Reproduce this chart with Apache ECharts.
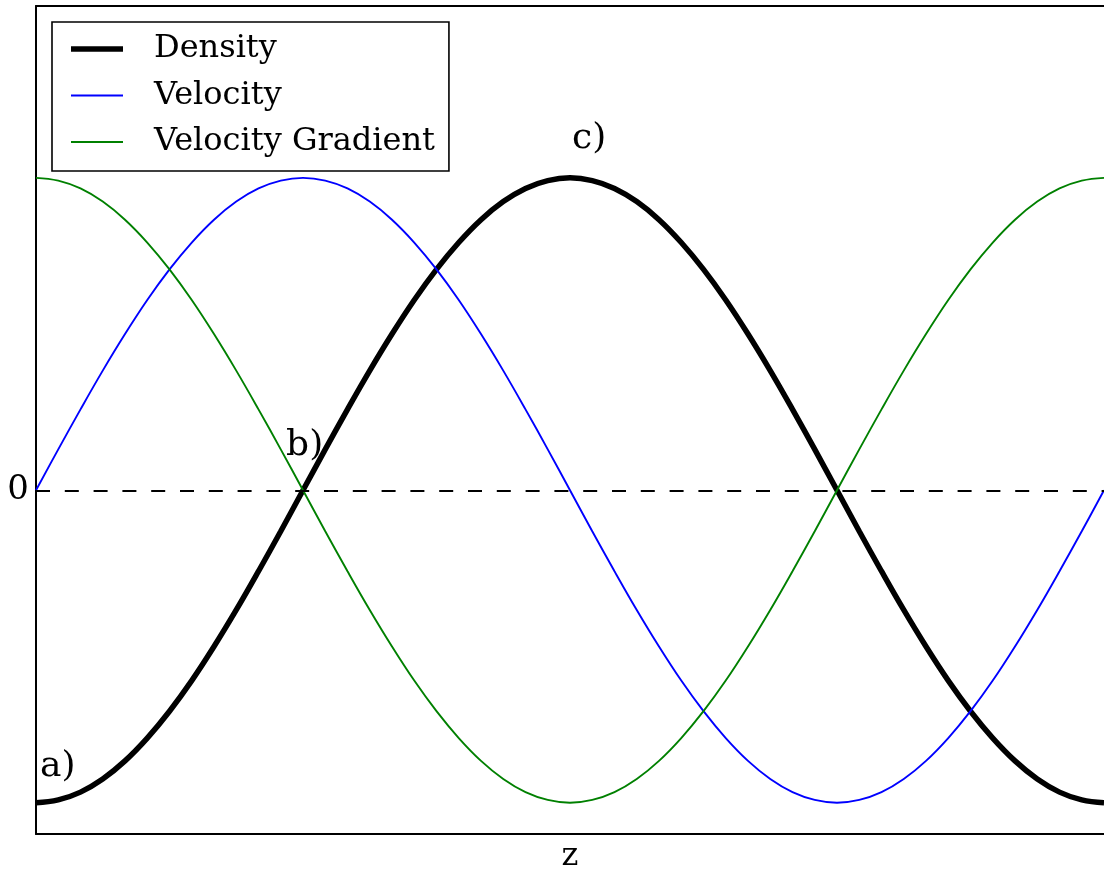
<!DOCTYPE html>
<html>
<head>
<meta charset="utf-8">
<script src="https://cdn.jsdelivr.net/npm/echarts@6/dist/echarts.min.js"></script>
<style>
  html, body { margin: 0; padding: 0; background: #fff; }
  #chart { width: 1104px; height: 871px; }
</style>
</head>
<body>
<div id="chart"></div>
<script>
// Samples along z, one period split into 48 steps (index 0..48)
const seriesNames = ['Density', 'Velocity', 'Velocity Gradient'];

const density = [
  -1.000, -0.991, -0.966, -0.924, -0.866, -0.793, -0.707, -0.609, -0.500, -0.383, -0.259, -0.131,
   0.000,  0.131,  0.259,  0.383,  0.500,  0.609,  0.707,  0.793,  0.866,  0.924,  0.966,  0.991,
   1.000,  0.991,  0.966,  0.924,  0.866,  0.793,  0.707,  0.609,  0.500,  0.383,  0.259,  0.131,
   0.000, -0.131, -0.259, -0.383, -0.500, -0.609, -0.707, -0.793, -0.866, -0.924, -0.966, -0.991,
  -1.000
];

const velocity = [
   0.000,  0.131,  0.259,  0.383,  0.500,  0.609,  0.707,  0.793,  0.866,  0.924,  0.966,  0.991,
   1.000,  0.991,  0.966,  0.924,  0.866,  0.793,  0.707,  0.609,  0.500,  0.383,  0.259,  0.131,
   0.000, -0.131, -0.259, -0.383, -0.500, -0.609, -0.707, -0.793, -0.866, -0.924, -0.966, -0.991,
  -1.000, -0.991, -0.966, -0.924, -0.866, -0.793, -0.707, -0.609, -0.500, -0.383, -0.259, -0.131,
   0.000
];

const velocityGradient = [
   1.000,  0.991,  0.966,  0.924,  0.866,  0.793,  0.707,  0.609,  0.500,  0.383,  0.259,  0.131,
   0.000, -0.131, -0.259, -0.383, -0.500, -0.609, -0.707, -0.793, -0.866, -0.924, -0.966, -0.991,
  -1.000, -0.991, -0.966, -0.924, -0.866, -0.793, -0.707, -0.609, -0.500, -0.383, -0.259, -0.131,
   0.000,  0.131,  0.259,  0.383,  0.500,  0.609,  0.707,  0.793,  0.866,  0.924,  0.966,  0.991,
   1.000
];

// Point annotations: [z index, value, text]
const annotations = [
  [0.18, -0.883, 'a)'],
  [11.24, 0.144, 'b)'],
  [24.09, 1.125, 'c)']
];

const yTickLabels = ['0'];

const FONT = '"DejaVu Serif", "Liberation Serif", serif';
const COLORS = ['#000000', '#0000ff', '#008000'];
const WIDTHS = [5.5, 1.9, 1.9];
const toPairs = arr => arr.map((v, i) => [i, v]);

// Legend keys drawn as flat bars whose thickness follows each line width
const legendKey = w => 'path://M0,0 L52,0 L52,' + w + ' L0,' + w + ' Z';

const chart = echarts.init(document.getElementById('chart'), null, { renderer: 'canvas' });

chart.setOption({
  backgroundColor: '#ffffff',
  animation: false,
  textStyle: { fontFamily: FONT, color: '#000' },
  grid: { left: 36, right: 0, top: 6, bottom: 37, containLabel: false, outerBoundsMode: 'none' },
  legend: {
    data: seriesNames.map((n, i) => ({
      name: n,
      icon: legendKey(WIDTHS[i]),
      itemStyle: { color: COLORS[i], borderWidth: 0 }
    })),
    left: 52,
    top: 22,
    orient: 'vertical',
    itemWidth: 52,
    itemHeight: 14,
    itemGap: 14.5,
    padding: [11, 14, 13, 19],
    borderColor: '#000',
    borderWidth: 1.6,
    backgroundColor: '#fff',
    textStyle: { fontFamily: FONT, fontSize: 32, color: '#000', padding: [0, 0, 0, 26] },
    selectedMode: false
  },
  xAxis: [
    {
      type: 'value',
      position: 'bottom',
      min: 0,
      max: 48,
      name: 'z',
      nameLocation: 'middle',
      nameGap: 7,
      nameTextStyle: { fontFamily: FONT, fontSize: 32, color: '#000' },
      axisLine: { show: true, onZero: false, lineStyle: { color: '#000', width: 2 } },
      axisTick: { show: false },
      axisLabel: { show: false },
      splitLine: { show: false }
    },
    {
      type: 'value',
      position: 'top',
      min: 0,
      max: 48,
      axisLine: { show: true, onZero: false, lineStyle: { color: '#000', width: 2 } },
      axisTick: { show: false },
      axisLabel: { show: false },
      splitLine: { show: false }
    }
  ],
  yAxis: {
    type: 'value',
    min: -1.1,
    max: 1.55,
    interval: 0.55,
    axisLine: { show: true, onZero: false, lineStyle: { color: '#000', width: 2 } },
    axisTick: { show: false },
    splitLine: { show: false },
    axisLabel: {
      margin: 7,
      fontFamily: FONT,
      fontSize: 34,
      color: '#000',
      padding: [3, 0, 0, 0],
      showMaxLabel: false,
      formatter: v => (Math.abs(v) < 1e-9 ? yTickLabels[0] : '')
    }
  },
  series: [
    {
      name: seriesNames[0],
      type: 'line',
      data: toPairs(density),
      smooth: 0.4,
      symbol: 'none',
      lineStyle: { color: COLORS[0], width: WIDTHS[0] },
      itemStyle: { color: COLORS[0] },
      markLine: {
        silent: true,
        symbol: ['none', 'none'],
        label: { show: false },
        lineStyle: { color: '#000', width: 2, type: [14, 14.8] },
        data: [{ yAxis: 0 }]
      }
    },
    {
      name: seriesNames[1],
      type: 'line',
      data: toPairs(velocity),
      smooth: 0.4,
      symbol: 'none',
      lineStyle: { color: COLORS[1], width: WIDTHS[1] },
      itemStyle: { color: COLORS[1] }
    },
    {
      name: seriesNames[2],
      type: 'line',
      data: toPairs(velocityGradient),
      smooth: 0.4,
      symbol: 'none',
      lineStyle: { color: COLORS[2], width: WIDTHS[2] },
      itemStyle: { color: COLORS[2] }
    },
    {
      name: 'labels',
      type: 'scatter',
      data: annotations.map(a => ({ value: [a[0], a[1]], label: { formatter: a[2] } })),
      symbolSize: 0,
      silent: true,
      itemStyle: { opacity: 1 },
      label: {
        show: true,
        position: 'right',
        distance: 0,
        fontFamily: FONT,
        fontSize: 36,
        color: '#000',
        opacity: 1
      }
    }
  ]
});
</script>
</body>
</html>
